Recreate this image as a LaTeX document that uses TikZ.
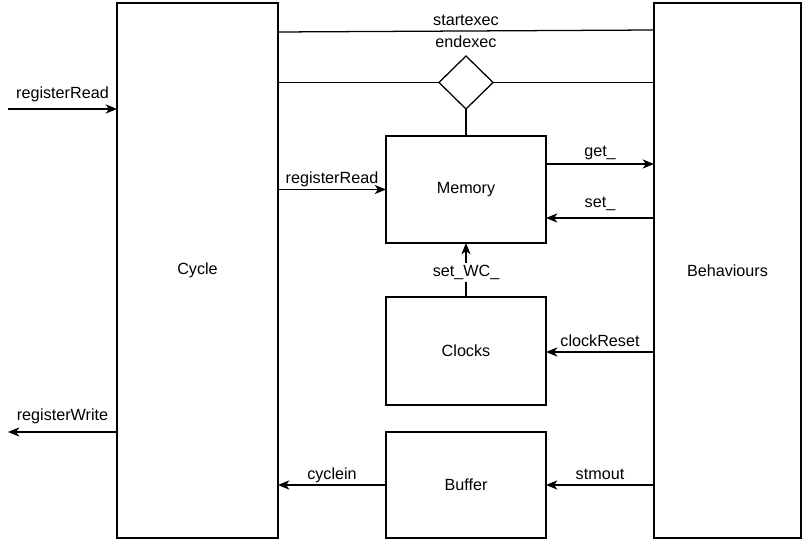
\documentclass[tikz,border=0pt]{standalone}
\usepackage{fontspec}
\setmainfont{Liberation Sans}
\usepackage{tikz}
\usetikzlibrary{shapes.geometric,arrows.meta,positioning}

\tikzset{
  blk/.style={draw, line width=0.9pt, inner sep=0pt, outer sep=0pt},
  wire/.style={line width=0.9pt},
  arr/.style={wire, -{Stealth[length=8pt,width=6.5pt,inset=2.2pt]}},
  lbl/.style={inner sep=0pt, text depth=0pt},
}

\begin{document}
\begin{tikzpicture}[x=0.025cm, y=-0.025cm, font=\fontsize{11.5}{13.5}\selectfont]
    \useasboundingbox (0,0) rectangle (804,543);

    % blocks
    \node[blk, minimum width=4.025cm, minimum height=13.375cm] (cycle) at (197.5,270.5) {Cycle};
    \node[blk, minimum width=3.675cm, minimum height=13.375cm] (behav) at (727.5,270.5) {Behaviours};
    \node[blk, minimum width=4cm, minimum height=2.675cm] (memory) at (466,189.5) {Memory};
    \node[blk, minimum width=4cm, minimum height=2.7cm] (clocks) at (466,351) {Clocks};
    \node[blk, minimum width=4cm, minimum height=2.65cm] (buffer) at (466,485) {Buffer};
    \node[blk, diamond, minimum width=1.35cm, minimum height=1.325cm] (dia) at (466,82.5) {};
    \node[lbl, above=5.8pt of dia.north] (endlbl) {endexec};

    \coordinate (rrin) at (8,109);
    \coordinate (rwout) at (8,432);

    % outside signals
    \draw[arr] (rrin) -- (cycle.west |- rrin)
        node[lbl, midway, above=7pt] {registerRead};
    \draw[arr] (cycle.west |- rwout) -- (rwout)
        node[lbl, midway, above=7.5pt] {registerWrite};

    % exec lines
    \draw[wire] (cycle.east |- 0,32) -- (behav.west |- 0,30)
        node[lbl, midway, above=3.5pt] {startexec};
    \draw[wire] (cycle.east |- dia) -- (dia.west);
    \draw[wire] (dia.east) -- (behav.west |- dia);
    \draw[wire] (dia.south) -- (memory.north);

    % memory
    \draw[arr] (cycle.east |- memory) -- (memory.west)
        node[lbl, midway, above=4pt] {registerRead};
    \draw[arr] (memory.east |- 0,164) -- (behav.west |- 0,164)
        node[lbl, midway, above=5pt] {get\_};
    \draw[arr] (behav.west |- 0,218) -- (memory.east |- 0,218)
        node[lbl, midway, above=6.7pt] {set\_};
    \draw[arr] (clocks.north) -- (memory.south)
        node[midway, fill=white, inner sep=1.5pt, yshift=-2pt] {set\_WC\_};

    % clocks and buffer
    \draw[arr] (behav.west |- 0,352) -- (clocks.east |- 0,352)
        node[lbl, midway, above=3.5pt] {clockReset};
    \draw[arr] (behav.west |- buffer) -- (buffer.east)
        node[lbl, midway, above=3.5pt] {stmout};
    \draw[arr] (buffer.west) -- (cycle.east |- buffer)
        node[lbl, midway, above=3.5pt] {cyclein};
\end{tikzpicture}
\end{document}
